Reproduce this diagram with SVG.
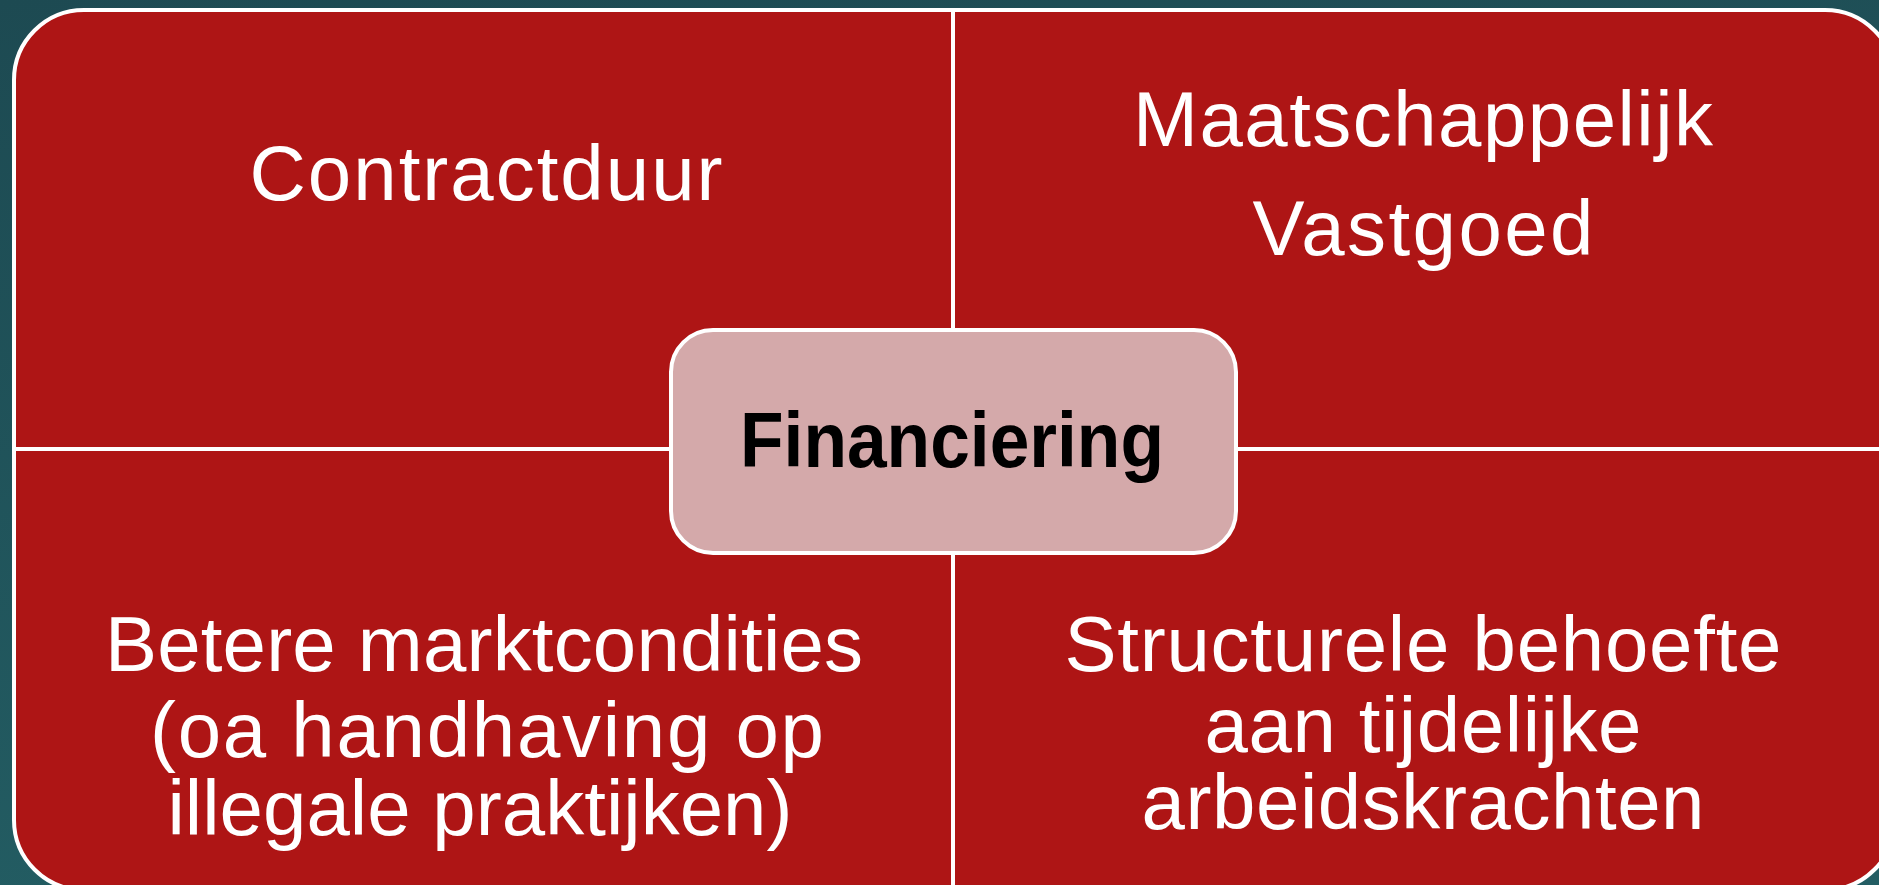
<svg xmlns="http://www.w3.org/2000/svg" width="1879" height="885" viewBox="0 0 1879 885">
  <defs>
    <linearGradient id="bg" x1="0" y1="0" x2="0.3" y2="1">
      <stop offset="0" stop-color="#1d4a52"/>
      <stop offset="1" stop-color="#235d63"/>
    </linearGradient>
    <style>
      .quad { fill: #ae1515; stroke: #ffffff; stroke-width: 4; }
      .qt { font-family: "Liberation Sans", Arial, sans-serif; font-size: 78px; fill: #ffffff; text-anchor: middle; }
      .hub { fill: #d4a9aa; stroke: #ffffff; stroke-width: 4; }
      .ht { font-family: "Liberation Sans", Arial, sans-serif; font-size: 78px; font-weight: bold; fill: #000000; text-anchor: middle; }
    </style>
  </defs>
  <rect x="0" y="0" width="1879" height="885" fill="url(#bg)"/>

  <g id="quad-top-left">
    <path class="quad" d="M14,449 L14,80 A70,70 0 0 1 84,10 L953,10 L953,449 Z"/>
    <text class="qt" x="486" y="200" textLength="473" lengthAdjust="spacing">Contractduur</text>
  </g>
  <g id="quad-top-right">
    <path class="quad" d="M953,10 L1825,10 A70,70 0 0 1 1895,80 L1895,449 L953,449 Z"/>
    <text class="qt" x="1423" y="146" textLength="580" lengthAdjust="spacing">Maatschappelijk</text>
    <text class="qt" x="1423" y="255" textLength="341" lengthAdjust="spacing">Vastgoed</text>
  </g>
  <g id="quad-bottom-left">
    <path class="quad" d="M14,449 L953,449 L953,890 L84,890 A70,70 0 0 1 14,820 Z"/>
    <text class="qt" x="484" y="671" textLength="758" lengthAdjust="spacing">Betere marktcondities</text>
    <text class="qt" x="487" y="757" textLength="674" lengthAdjust="spacing">(oa handhaving op</text>
    <text class="qt" x="480" y="835" textLength="625" lengthAdjust="spacing">illegale praktijken)</text>
  </g>
  <g id="quad-bottom-right">
    <path class="quad" d="M953,449 L1895,449 L1895,820 A70,70 0 0 1 1825,890 L953,890 Z"/>
    <text class="qt" x="1423" y="671" textLength="717" lengthAdjust="spacing">Structurele behoefte</text>
    <text class="qt" x="1423" y="752" textLength="437" lengthAdjust="spacing">aan tijdelijke</text>
    <text class="qt" x="1423" y="829" textLength="563" lengthAdjust="spacing">arbeidskrachten</text>
  </g>

  <g id="connectors"></g>

  <g id="hub-financiering">
    <rect class="hub" x="671" y="330" width="565" height="223" rx="42" ry="42"/>
    <text class="ht" x="952" y="467" textLength="424" lengthAdjust="spacingAndGlyphs">Financiering</text>
  </g>
</svg>
